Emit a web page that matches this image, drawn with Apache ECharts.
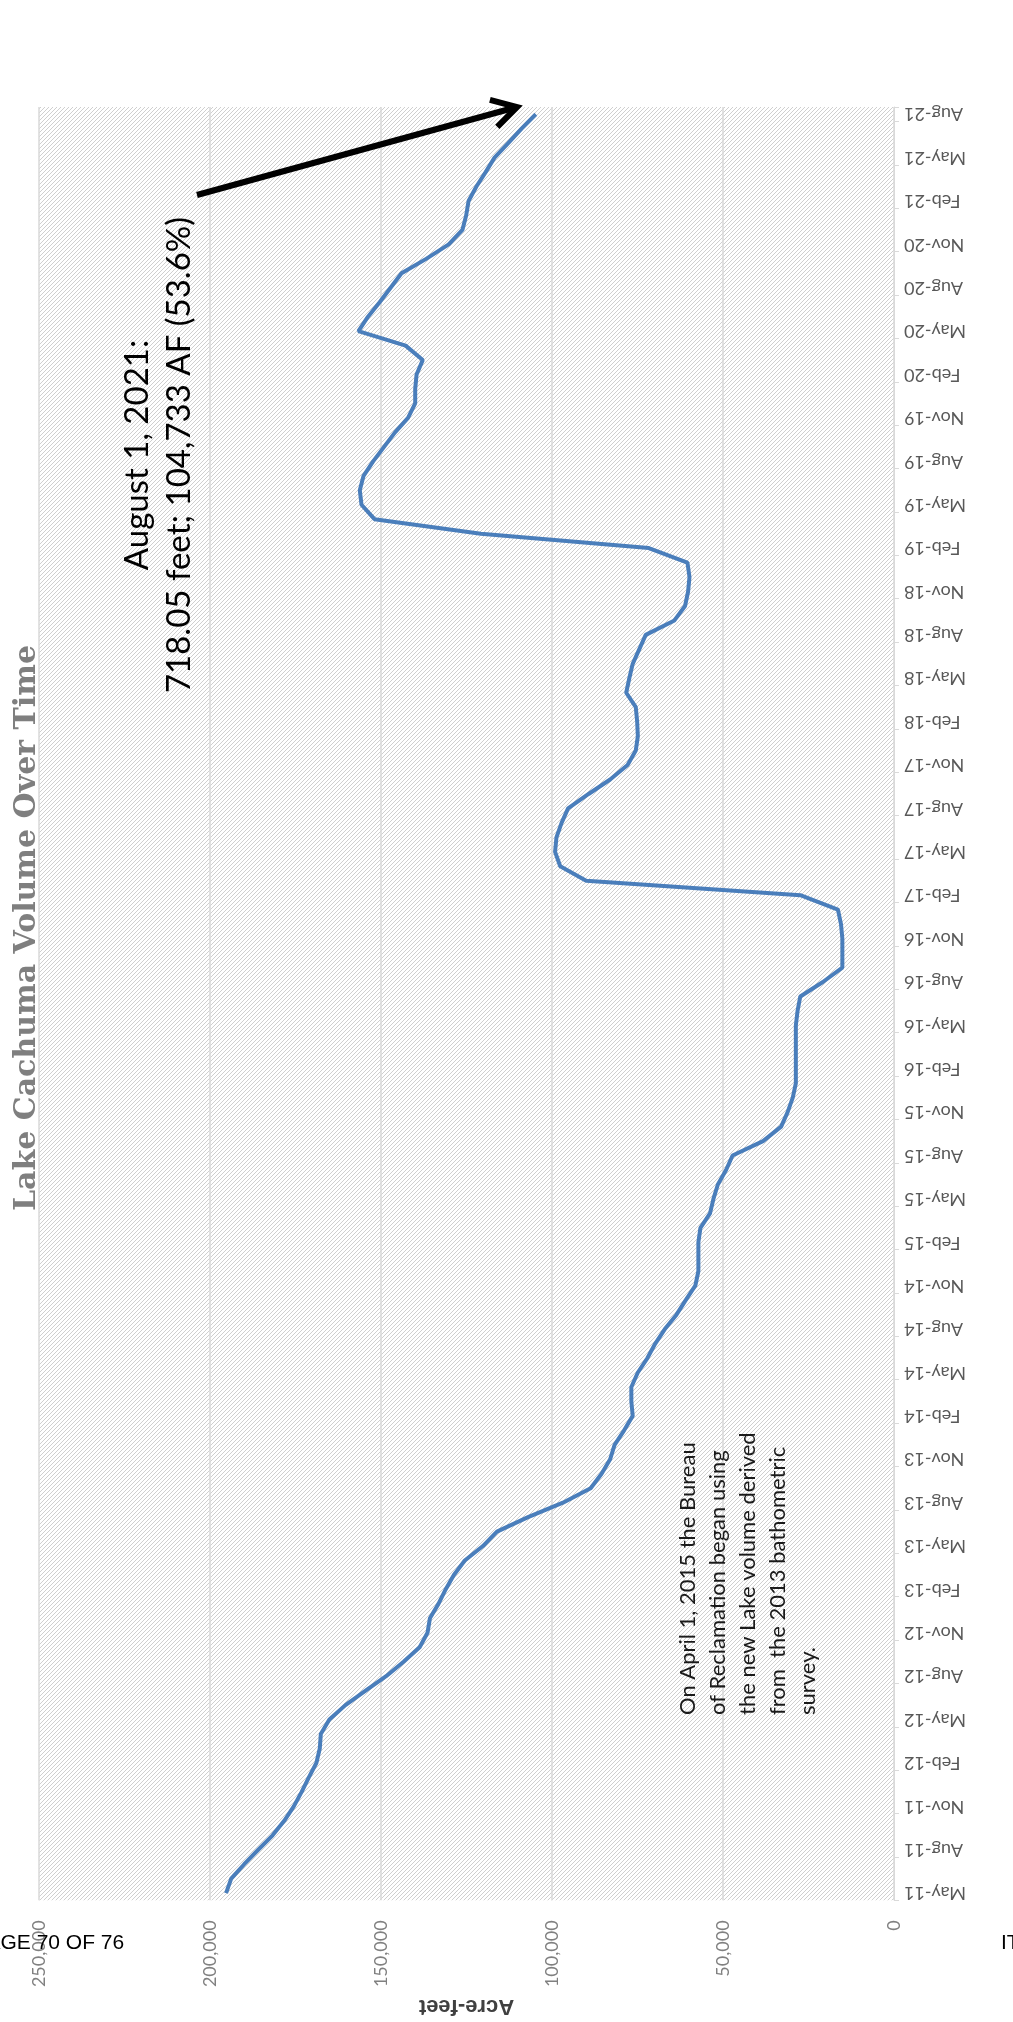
<!DOCTYPE html>
<html>
<head>
<meta charset="utf-8">
<title>Lake Cachuma Volume Over Time</title>
<script src="https://cdn.jsdelivr.net/npm/echarts@6/dist/echarts.min.js"></script>
<style>
  html, body { margin: 0; padding: 0; background: #ffffff; }
  #chart { width: 1013px; height: 2022px; }
</style>
</head>
<body>
<div id="chart"></div>
<script>
// Month names used to build the category labels (e.g. "May-11")
const monthNames = ['Jan', 'Feb', 'Mar', 'Apr', 'May', 'Jun', 'Jul', 'Aug', 'Sep', 'Oct', 'Nov', 'Dec'];

// Lake volume on the first of each month, acre-feet
const volume2011 = [195300, 193800, 190000, 185900, 181700, 178300, 175500, 173200]; // May–Dec
const volume2012 = [171100, 168900, 167900, 167600, 165100, 160400, 154500, 148500, 143400, 138700, 136400, 135700];
const volume2013 = [133200, 131100, 128700, 125500, 120200, 116100, 107000, 96800, 88700, 85500, 83000, 81700];
const volume2014 = [78900, 76400, 76800, 76800, 74900, 72100, 69800, 67000, 63600, 60900, 58100, 57200];
const volume2015 = [57200, 57200, 56600, 53800, 52800, 51500, 49100, 47200, 38300, 33000, 31100, 29600];
const volume2016 = [28700, 28700, 28700, 28700, 28700, 28200, 27400, 20800, 15100, 15100, 15100, 15500];
const volume2017 = [16400, 27400, 90000, 97600, 99100, 98700, 97200, 95300, 89300, 83000, 77900, 75500];
const volume2018 = [74900, 75100, 75500, 78300, 77400, 76400, 74500, 72600, 64200, 61100, 60200, 59800];
const volume2019 = [60400, 71700, 120800, 151900, 155700, 156200, 155100, 152300, 149100, 145900, 142100, 140000];
const volume2020 = [140000, 139600, 137800, 142800, 156600, 153800, 150400, 147200, 144000, 136800, 130200, 126200];
const volume2021 = [125100, 124400, 122100, 119400, 116800, 112800, 108900, 104733]; // Jan–Aug

const volumeByYear = [
  [2011, 4, volume2011], [2012, 0, volume2012], [2013, 0, volume2013], [2014, 0, volume2014],
  [2015, 0, volume2015], [2016, 0, volume2016], [2017, 0, volume2017], [2018, 0, volume2018],
  [2019, 0, volume2019], [2020, 0, volume2020], [2021, 0, volume2021]
];

// Value-axis range and tick step (acre-feet)
const volumeAxisMin = 0;
const volumeAxisMax = 250000;
const volumeAxisStep = 50000;

const annotationLatest = 'August 1, 2021:\n718.05 feet; 104,733 AF (53.6%)';
const annotationSurvey = 'On April 1, 2015 the Bureau\nof Reclamation began using\nthe new Lake volume derived\nfrom  the 2013 bathometric\nsurvey.';

// Flatten the yearly arrays into monthly categories and values
const months = [];
const volumes = [];
volumeByYear.forEach(([year, firstMonth, values]) => {
  values.forEach((v, i) => {
    months.push(monthNames[firstMonth + i] + '-' + String(year).slice(2));
    volumes.push(v);
  });
});

// Light diagonal hatch used as the plot-area fill
const hatch = document.createElement('canvas');
hatch.width = 4; hatch.height = 4;
const hctx = hatch.getContext('2d');
hctx.fillStyle = '#ffffff';
hctx.fillRect(0, 0, 4, 4);
hctx.fillStyle = '#cfcfcf';
for (let i = 0; i < 4; i++) hctx.fillRect(i, 3 - i, 1, 1);

// Arrow pointing at the latest reading
const arrowStart = [197, 195];
const arrowTip = [517, 107];
const dx = arrowTip[0] - arrowStart[0], dy = arrowTip[1] - arrowStart[1];
const ang = Math.atan2(dy, dx);
const headLen = 28, headSpread = Math.PI / 6;
const wingA = [arrowTip[0] - headLen * Math.cos(ang - headSpread), arrowTip[1] - headLen * Math.sin(ang - headSpread)];
const wingB = [arrowTip[0] - headLen * Math.cos(ang + headSpread), arrowTip[1] - headLen * Math.sin(ang + headSpread)];

const chart = echarts.init(document.getElementById('chart'), null, { renderer: 'canvas' });

chart.setOption({
  animation: false,
  backgroundColor: '#ffffff',
  grid: {
    left: 39, right: 119, top: 107, bottom: 107,
    show: true,
    z: 0,
    borderWidth: 0,
    backgroundColor: { image: hatch, repeat: 'repeat' }
  },
  xAxis: {
    type: 'value',
    inverse: true,
    position: 'bottom',
    z: 2,
    min: volumeAxisMin,
    max: volumeAxisMax,
    interval: volumeAxisStep,
    axisLine: { show: false },
    axisTick: { show: false },
    splitLine: { show: true, lineStyle: { color: '#d9d9d9', width: 1.5 } },
    axisLabel: {
      rotate: 90,
      margin: 20,
      fontFamily: 'Lato',
      fontSize: 18,
      color: '#808080',
      formatter: v => v.toLocaleString('en-US')
    },
    name: 'Acre-feet',
    nameLocation: 'middle',
    nameRotate: 180,
    nameGap: 62,
    nameTextStyle: {
      fontFamily: '"Liberation Sans Narrow", "Liberation Sans", sans-serif',
      fontWeight: 'bold',
      fontSize: 22,
      color: '#404040'
    }
  },
  yAxis: {
    type: 'category',
    data: months,
    position: 'right',
    z: 2,
    boundaryGap: true,
    axisLine: { show: true, onZero: false, lineStyle: { color: '#d9d9d9', width: 1 } },
    axisTick: { show: true, interval: 2, length: 5, lineStyle: { color: '#d9d9d9' } },
    splitLine: { show: false },
    axisLabel: {
      interval: 2,
      rotate: 180,
      margin: 10,
      fontFamily: 'Lato',
      fontSize: 18,
      color: '#595959'
    }
  },
  series: [{
    type: 'line',
    data: volumes,
    symbol: 'none',
    smooth: false,
    z: 3,
    lineStyle: { color: '#4a7ebb', width: 4 }
  }],
  graphic: [
    {
      type: 'text', x: 27, y: 928, rotation: Math.PI / 2, z: 10,
      style: {
        text: 'Lake Cachuma Volume Over Time',
        fontFamily: '"DejaVu Serif", serif', fontWeight: 'bold', fontSize: 30,
        fill: '#7f7f7f', align: 'center', verticalAlign: 'middle'
      }
    },
    {
      type: 'text', x: 158, y: 455, rotation: Math.PI / 2, z: 10,
      style: {
        text: annotationLatest,
        fontFamily: 'Lato', fontSize: 33, lineHeight: 42,
        fill: '#000000', align: 'center', verticalAlign: 'middle'
      }
    },
    {
      type: 'polyline', z: 10,
      shape: { points: [arrowStart, arrowTip] },
      style: { stroke: '#000000', lineWidth: 6, lineCap: 'butt' }
    },
    {
      type: 'polyline', z: 10,
      shape: { points: [wingA, arrowTip, wingB] },
      style: { stroke: '#000000', lineWidth: 6, lineJoin: 'miter', fill: null }
    },
    {
      type: 'text', x: 748, y: 1715, rotation: Math.PI / 2, z: 10,
      style: {
        text: annotationSurvey,
        fontFamily: 'Lato', fontSize: 22, lineHeight: 30,
        fill: '#1a1a1a', align: 'left', verticalAlign: 'middle'
      }
    },
    {
      type: 'text', x: -26, y: 1943, z: 20,
      style: {
        text: 'PAGE 70 OF 76',
        fontFamily: '"Liberation Sans Narrow", "Liberation Sans", sans-serif', fontSize: 21,
        fill: '#000000', align: 'left', verticalAlign: 'middle'
      }
    },
    {
      type: 'text', x: 1001, y: 1943, z: 20,
      style: {
        text: 'ITEM',
        fontFamily: '"Liberation Sans Narrow", "Liberation Sans", sans-serif', fontSize: 21,
        fill: '#000000', align: 'left', verticalAlign: 'middle'
      }
    }
  ]
});
</script>
</body>
</html>
